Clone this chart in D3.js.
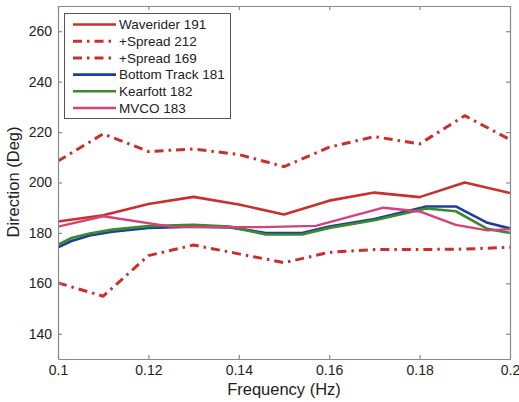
<!DOCTYPE html>
<html><head><meta charset="utf-8">
<script src="https://cdn.jsdelivr.net/npm/d3@7"></script>
<style>body{margin:0;background:#fff}svg{display:block;font-family:Arial,"Liberation Sans",sans-serif}</style>
</head><body><svg id="c" width="519" height="402"></svg>
<script>
// Data
const freq = [0.10,0.11,0.12,0.13,0.14,0.15,0.16,0.17,0.18,0.19,0.20];
const waverider = [184.5,187,191.5,194.3,191.3,187.3,192.8,196,194.2,200,195.8];
const spreadHigh = [208.5,219.3,212.3,213.3,211.1,206.3,214,218.2,215.3,226.5,217];
const spreadLow  = [160.2,154.9,171,175.2,171.7,168.2,172.3,173.4,173.4,173.6,174.3];
const freqInst = [0.10,0.103,0.107,0.112,0.12,0.13,0.138,0.146,0.154,0.16,0.17,0.1815,0.188,0.195,0.20];
const bottomTrack = [174.3,176.8,179,180.5,182,182.5,182.2,180,180,182.5,185.5,190.5,190.5,184,181.8];
const kearfott    = [175.3,178,179.8,181.3,182.7,183.2,182.5,179.4,179.4,182,185,189.7,188.6,181.6,180];
const freqMvco = [0.10,0.11,0.125,0.135,0.145,0.157,0.172,0.18,0.188,0.195,0.20];
const mvco     = [182.5,186.6,182.5,182.3,182.3,182.8,190,188.5,183.2,181,181.5];
const xTicks = [0.1,0.12,0.14,0.16,0.18,0.2];
const yTicks = [140,160,180,200,220,240,260];
const legendLabels = ["Waverider 191","+Spread 212","+Spread 169","Bottom Track 181","Kearfott 182","MVCO 183"];

(function(){
const W=519,H=402, m={l:58,r:9,t:6,b:43};
const svg=d3.select("#c");
const x=d3.scaleLinear().domain([0.1,0.2]).range([m.l,W-m.r]);
const y=d3.scaleLinear().domain([130,270]).range([H-m.b,m.t]);
const axisCol="#8a8a8a", textCol="#222";

const series=[
  {xs:freq,ys:waverider,c:"#c9302c",w:2.6,d:null},
  {xs:freq,ys:spreadHigh,c:"#c9302c",w:3,d:"9,5,2.5,5"},
  {xs:freq,ys:spreadLow,c:"#c9302c",w:3,d:"9,5,2.5,5"},
  {xs:freqInst,ys:bottomTrack,c:"#1f3c9e",w:2.6,d:null},
  {xs:freqInst,ys:kearfott,c:"#3b8a2e",w:2.6,d:null},
  {xs:freqMvco,ys:mvco,c:"#d8407a",w:2.4,d:null}
];
const line=d3.line().x(d=>x(d[0])).y(d=>y(d[1]));
const g=svg.append("g");
g.append("clipPath").attr("id","cp").append("rect").attr("x",m.l).attr("y",m.t).attr("width",W-m.r-m.l).attr("height",H-m.b-m.t);
series.forEach(s=>{
  g.append("path").attr("clip-path","url(#cp)").datum(s.xs.map((v,i)=>[v,s.ys[i]]))
   .attr("d",line).attr("fill","none").attr("stroke",s.c).attr("stroke-width",s.w)
   .attr("stroke-linejoin","round").attr("stroke-dasharray",s.d);
});

const axB=d3.axisBottom(x).tickValues(xTicks).tickFormat(d=>String(+d.toFixed(2))).tickSizeInner(-4).tickSizeOuter(0).tickPadding(6);
const axT=d3.axisTop(x).tickValues(xTicks).tickFormat("").tickSizeInner(-4).tickSizeOuter(0);
const axL=d3.axisLeft(y).tickValues(yTicks).tickSizeInner(-4).tickSizeOuter(0).tickPadding(6);
const axR=d3.axisRight(y).tickValues(yTicks).tickFormat("").tickSizeInner(-4).tickSizeOuter(0);
function style(sel){sel.selectAll("path,line").attr("stroke",axisCol).attr("stroke-width",1.2);sel.selectAll("text").attr("fill",textCol).style("font-size","14px").style("font-family","Arial,'Liberation Sans',sans-serif");}
svg.append("g").attr("transform",`translate(0,${H-m.b})`).call(axB).call(style);
svg.append("g").attr("transform",`translate(0,${m.t})`).call(axT).call(style);
svg.append("g").attr("transform",`translate(${m.l},0)`).call(axL).call(style);
svg.append("g").attr("transform",`translate(${W-m.r},0)`).call(axR).call(style);

svg.append("text").attr("x",(m.l+W-m.r)/2).attr("y",395).attr("text-anchor","middle")
  .attr("fill",textCol).style("font-size","16.5px").text("Frequency (Hz)");
svg.append("text").attr("transform",`translate(19,${182}) rotate(-90)`).attr("text-anchor","middle")
  .attr("fill",textCol).style("font-size","16.5px").text("Direction (Deg)");

const lg=svg.append("g");
lg.append("rect").attr("x",64.5).attr("y",13.5).attr("width",166).attr("height",105)
  .attr("fill","#fff").attr("stroke","#555").attr("stroke-width",1);
legendLabels.forEach((t,i)=>{
  const yy=24.5+i*16.7, s=series[i];
  lg.append("line").attr("x1",73).attr("x2",116).attr("y1",yy).attr("y2",yy)
    .attr("stroke",s.c).attr("stroke-width",s.w).attr("stroke-dasharray",s.d);
  lg.append("text").attr("x",119).attr("y",yy+4.8).attr("fill",textCol).style("font-size","13.5px").text(t);
});
})();
</script></body></html>
